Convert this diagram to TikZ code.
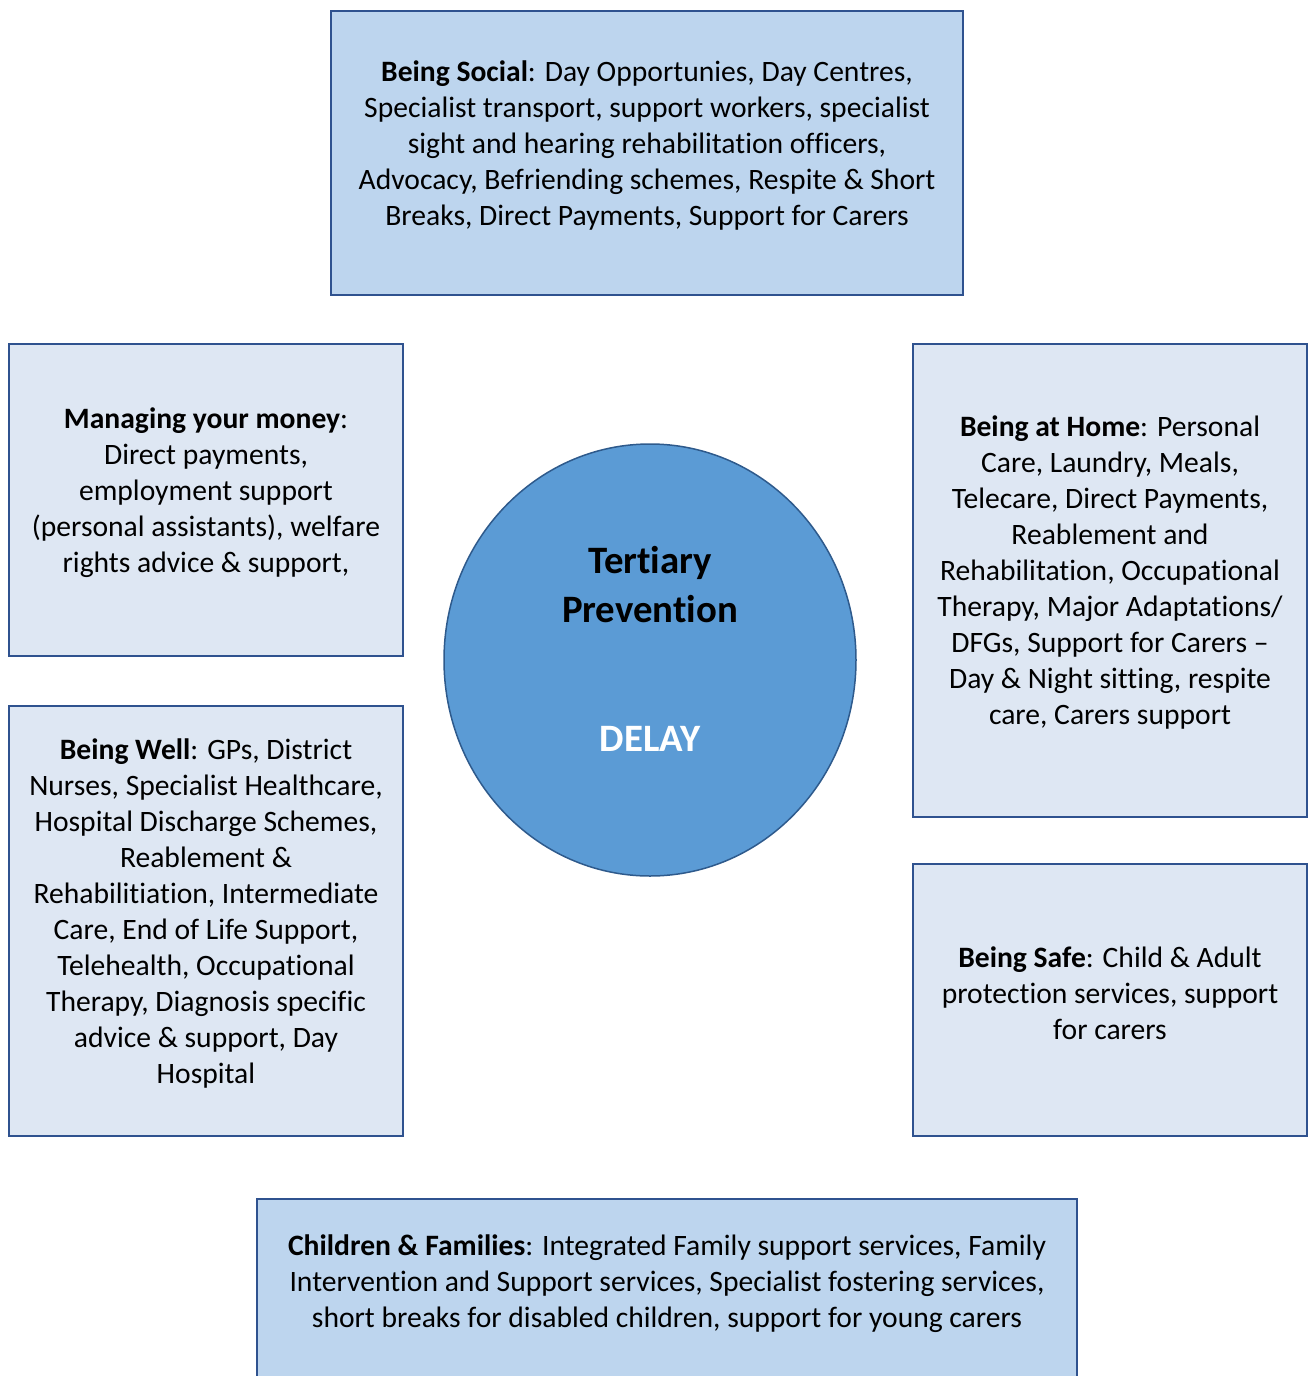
\documentclass[tikz,border=0pt]{standalone}
\usepackage{fontspec}
\setmainfont{Carlito}[Ligatures={NoCommon}]
\usetikzlibrary{fit,shapes.geometric}
\definecolor{boxline}{HTML}{2F528F}
\definecolor{darkfill}{HTML}{BDD5EE}
\definecolor{lightfill}{HTML}{DEE7F3}
\definecolor{circfill}{HTML}{5B9BD5}
\definecolor{circline}{HTML}{2E5A8C}
\begin{document}
\begin{tikzpicture}[x=0.5pt,y=-0.5pt,
  darkbox/.style={draw=boxline, fill=darkfill, line width=1pt, inner sep=0pt},
  lightbox/.style={draw=boxline, fill=lightfill, line width=1pt, inner sep=0pt},
  bodytext/.style={align=center, inner sep=0pt, font=\fontsize{14.8}{18}\selectfont},
  circtext/.style={align=center, inner sep=0pt, font=\fontsize{19.4}{24.5}\selectfont\bfseries}]
\useasboundingbox (0,0) rectangle (1309,1376);
\clip (0,0) rectangle (1309,1376);
% boxes
\node[darkbox, fit={(331,11) (963,295)}] (social) {};
\node[lightbox, fit={(9,344) (403,656)}] (money) {};
\node[lightbox, fit={(9,706) (403,1136)}] (well) {};
\node[lightbox, fit={(913,344) (1307,817)}] (home) {};
\node[lightbox, fit={(913,864) (1307,1136)}] (safe) {};
\node[darkbox, fit={(257,1199) (1077,1400)}] (children) {};
% circle
\node[draw=circline, fill=circfill, line width=0.75pt, ellipse, minimum width=206pt, minimum height=216pt, inner sep=0pt] (circ) at (650,660) {};
% texts
\node[bodytext] (socialtxt) at (647,145) {\textbf{Being Social}: Day Opportunies, Day Centres,\\Specialist transport, support workers, specialist\\sight and hearing rehabilitation officers,\\Advocacy, Befriending schemes, Respite \& Short\\Breaks, Direct Payments, Support for Carers};
\node[bodytext] (moneytxt) at (206,492.5) {\textbf{Managing your money}:\\Direct payments,\\employment support\\(personal assistants), welfare\\rights advice \& support,};
\node[bodytext] (welltxt) at (206,913.5) {\textbf{Being Well}: GPs, District\\Nurses, Specialist Healthcare,\\Hospital Discharge Schemes,\\Reablement \&\\Rehabilitiation, Intermediate\\Care, End of Life Support,\\Telehealth, Occupational\\Therapy, Diagnosis specific\\advice \& support, Day\\Hospital};
\node[bodytext] (hometxt) at (1110,572.5) {\textbf{Being at Home}: Personal\\Care, Laundry, Meals,\\Telecare, Direct Payments,\\Reablement and\\Rehabilitation, Occupational\\Therapy, Major Adaptations/\\DFGs, Support for Carers –\\Day \& Night sitting, respite\\care, Carers support};
\node[bodytext] (safetxt) at (1110,993) {\textbf{Being Safe}: Child \& Adult\\protection services, support\\for carers};
\node[bodytext] (childrentxt) at (667,1283.5) {\textbf{Children \& Families}: Integrated Family support services, Family\\Intervention and Support services, Specialist fostering services,\\short breaks for disabled children, support for young carers};
\node[circtext] (tertiary) at (650,584.5) {Tertiary\\Prevention};
\node[circtext, text=white] (delay) at (650,739) {DELAY};
\end{tikzpicture}
\end{document}
